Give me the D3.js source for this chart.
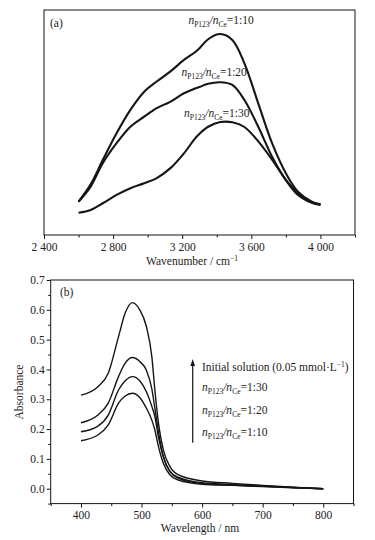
<!DOCTYPE html>
<html lang="en">
<head>
  <meta charset="UTF-8">
  <title>IR and UV-vis spectra</title>
  <style>
    body { margin: 0; background: #fff; }
    svg text { font-family: "Liberation Serif", "DejaVu Serif", serif; }
    .tick text { font-size: 11.5px; fill: #222; }
  </style>
</head>
<body>
<script src="https://cdn.jsdelivr.net/npm/d3@7"></script>
<script>
  // ---- panel (a): IR spectra ----
  var wavenumber = [2600, 2670, 2740, 2820, 2900, 2980, 3050, 3130, 3210, 3270, 3300, 3350, 3420, 3490, 3560, 3640, 3720, 3800, 3870, 3950, 4000];
  var ir_1_10 = [14.8, 22.5, 33.3, 45.2, 55.6, 63.7, 68.1, 72.6, 77.8, 81.0, 83.0, 87.0, 89.3, 86.7, 76.3, 58.5, 40.8, 27.4, 19.2, 14.8, 13.6];
  var ir_1_20 = [14.8, 21.5, 31.9, 40.8, 48.1, 52.6, 56.3, 59.2, 63.0, 65.0, 65.8, 67.2, 67.9, 66.7, 60.0, 48.1, 34.8, 24.4, 17.8, 14.4, 13.6];
  var ir_1_30 = [9.9, 11.1, 14.1, 17.8, 20.8, 23.0, 25.2, 29.6, 36.3, 42.5, 45.0, 48.1, 50.2, 50.1, 48.0, 41.6, 33.5, 24.5, 18.5, 14.3, 13.3];
  var irLabels = ["1:10", "1:20", "1:30"];
  var xTicksA = [2400, 2800, 3200, 3600, 4000];
  var xTickLabelsA = ["2 400", "2 800", "3 200", "3 600", "4 000"];

  // ---- panel (b): UV-vis spectra ----
  var wavelength = [400, 428, 445, 462, 473, 485, 497, 508, 517, 522, 528, 536, 547, 561, 600, 650, 700, 750, 800];
  var uv_initial = [0.314, 0.342, 0.387, 0.510, 0.589, 0.624, 0.600, 0.544, 0.443, 0.331, 0.219, 0.130, 0.074, 0.046, 0.026, 0.018, 0.011, 0.005, 0.000];
  var uv_1_30 = [0.221, 0.247, 0.287, 0.376, 0.421, 0.440, 0.427, 0.397, 0.335, 0.270, 0.190, 0.107, 0.058, 0.038, 0.020, 0.014, 0.009, 0.004, 0.000];
  var uv_1_20 = [0.191, 0.210, 0.247, 0.331, 0.362, 0.376, 0.362, 0.325, 0.276, 0.242, 0.172, 0.107, 0.057, 0.035, 0.017, 0.012, 0.008, 0.004, 0.000];
  var uv_1_10 = [0.161, 0.180, 0.214, 0.287, 0.311, 0.320, 0.306, 0.270, 0.230, 0.197, 0.141, 0.085, 0.046, 0.029, 0.015, 0.011, 0.007, 0.003, 0.000];
  var uvLegend = ["1:30", "1:20", "1:10"];
  var xTicksB = [400, 500, 600, 700, 800];
  var yTicksB = [0.0, 0.1, 0.2, 0.3, 0.4, 0.5, 0.6, 0.7];

  var ink = "#151515";
  var serif = "'Liberation Serif', 'DejaVu Serif', serif";

  var svg = d3.select("body").append("svg")
    .attr("width", 375)
    .attr("height", 540)
    .style("display", "block");

  // writes n_P123/n_Ce=ratio into a text element
  function ratioText(sel, ratio) {
    sel.append("tspan").attr("font-style", "italic").text("n");
    sel.append("tspan").attr("font-size", "7.5px").attr("dy", 3).text("P123");
    sel.append("tspan").attr("dy", -3).attr("font-style", "italic").text("/n");
    sel.append("tspan").attr("font-size", "7.5px").attr("dy", 3).text("Ce");
    sel.append("tspan").attr("dy", -3).text("=" + ratio);
  }

  // ================= panel (a) =================
  var xA = d3.scaleLinear().domain([2400, 4200]).range([44, 355]);
  var yA = d3.scaleLinear().domain([0, 100]).range([235, 10]);

  var gA = svg.append("g");

  gA.append("rect")
    .attr("x", xA.range()[0]).attr("y", yA.range()[1])
    .attr("width", xA.range()[1] - xA.range()[0])
    .attr("height", yA.range()[0] - yA.range()[1])
    .attr("fill", "none").attr("stroke", ink).attr("stroke-width", 1);

  var minorA = gA.append("g")
    .attr("transform", "translate(0," + yA.range()[0] + ")")
    .call(d3.axisBottom(xA).tickValues(d3.range(2600, 4201, 400)).tickSize(2.5).tickFormat(""));
  minorA.select(".domain").remove();

  var axA = gA.append("g")
    .attr("transform", "translate(0," + yA.range()[0] + ")")
    .attr("font-family", serif)
    .call(d3.axisBottom(xA).tickValues(xTicksA).tickSize(4)
      .tickFormat(function(d, i) { return xTickLabelsA[i]; }));
  axA.attr("font-family", serif).attr("font-size", 11.5);
  axA.select(".domain").remove();
  axA.selectAll(".tick text").attr("y", 8).attr("dy", "0.71em");
  gA.selectAll(".tick line").attr("stroke", ink);

  var lineA = d3.line()
    .x(function(d) { return xA(d[0]); })
    .y(function(d) { return yA(d[1]); })
    .curve(d3.curveCatmullRom.alpha(0.5));

  [ir_1_10, ir_1_20, ir_1_30].forEach(function(s) {
    gA.append("path")
      .datum(wavenumber.map(function(w, i) { return [w, s[i]]; }))
      .attr("fill", "none")
      .attr("stroke", ink)
      .attr("stroke-width", 2.1)
      .attr("d", lineA);
  });

  // labels above each peak
  var irLabelPos = [[3425, 94], [3385, 70.5], [3400, 52.5]];
  irLabels.forEach(function(r, i) {
    var t = gA.append("text")
      .attr("x", xA(irLabelPos[i][0]))
      .attr("y", yA(irLabelPos[i][1]))
      .attr("text-anchor", "middle")
      .attr("font-family", serif)
      .attr("font-size", "11.5px")
      .attr("fill", "#222");
    ratioText(t, r);
  });

  gA.append("text")
    .attr("x", 50).attr("y", 27)
    .attr("font-family", serif)
    .attr("font-size", "11.5px").attr("fill", "#222")
    .text("(a)");

  var titleA = gA.append("text")
    .attr("x", 192).attr("y", 265)
    .attr("text-anchor", "middle")
    .attr("font-family", serif)
    .attr("font-size", "11.5px").attr("fill", "#222");
  titleA.append("tspan").text("Wavenumber / cm");
  titleA.append("tspan").attr("font-size", "7.5px").attr("dy", -4).text("\u22121");

  // ================= panel (b) =================
  var xB = d3.scaleLinear().domain([350, 850]).range([50.7, 353.5]);
  var yB = d3.scaleLinear().domain([-0.05, 0.7]).range([503.6, 280]);

  var gB = svg.append("g");

  gB.append("rect")
    .attr("x", xB.range()[0]).attr("y", yB.range()[1])
    .attr("width", xB.range()[1] - xB.range()[0])
    .attr("height", yB.range()[0] - yB.range()[1])
    .attr("fill", "none").attr("stroke", ink).attr("stroke-width", 1);

  var minorBx = gB.append("g")
    .attr("transform", "translate(0," + yB.range()[0] + ")")
    .call(d3.axisBottom(xB).tickValues(d3.range(350, 851, 100)).tickSize(2.5).tickFormat(""));
  minorBx.select(".domain").remove();

  var axBx = gB.append("g")
    .attr("transform", "translate(0," + yB.range()[0] + ")")
    .call(d3.axisBottom(xB).tickValues(xTicksB).tickSize(4));
  axBx.attr("font-family", serif).attr("font-size", 11.5);
  axBx.select(".domain").remove();
  axBx.selectAll(".tick text").attr("y", 7).attr("dy", "0.71em");

  var minorBy = gB.append("g")
    .attr("transform", "translate(" + xB.range()[0] + ",0)")
    .call(d3.axisLeft(yB).tickValues(d3.range(-0.05, 0.7, 0.1)).tickSize(2.5).tickFormat(""));
  minorBy.select(".domain").remove();

  var axBy = gB.append("g")
    .attr("transform", "translate(" + xB.range()[0] + ",0)")
    .call(d3.axisLeft(yB).tickValues(yTicksB).tickSize(4).tickFormat(d3.format(".1f")));
  axBy.attr("font-family", serif).attr("font-size", 11.5);
  axBy.select(".domain").remove();
  axBy.selectAll(".tick text").attr("x", -6);
  gB.selectAll(".tick line").attr("stroke", ink);

  var lineB = d3.line()
    .x(function(d) { return xB(d[0]); })
    .y(function(d) { return yB(d[1]); })
    .curve(d3.curveMonotoneX);

  [uv_initial, uv_1_30, uv_1_20, uv_1_10].forEach(function(s) {
    gB.append("path")
      .datum(wavelength.map(function(w, i) { return [w, s[i]]; }))
      .attr("fill", "none")
      .attr("stroke", ink)
      .attr("stroke-width", 1.4)
      .attr("d", lineB);
  });

  gB.append("text")
    .attr("x", 60).attr("y", 296)
    .attr("font-family", serif)
    .attr("font-size", "11.5px").attr("fill", "#222")
    .text("(b)");

  // legend: arrow + labels
  var arrowX = 192.7;
  gB.append("line")
    .attr("x1", arrowX).attr("x2", arrowX)
    .attr("y1", 442.7).attr("y2", 364)
    .attr("stroke", ink).attr("stroke-width", 1.2);
  gB.append("path")
    .attr("d", "M" + arrowX + ",359 L" + (arrowX - 2.3) + ",366 L" + (arrowX + 2.3) + ",366 Z")
    .attr("fill", ink);

  var init = gB.append("text")
    .attr("x", 202).attr("y", 371)
    .attr("font-family", serif)
    .attr("font-size", "11.5px").attr("fill", "#222");
  init.append("tspan").text("Initial solution (0.05 mmol\u00b7L");
  init.append("tspan").attr("font-size", "7.5px").attr("dy", -4).text("\u22121");
  init.append("tspan").attr("dy", 4).text(")");

  var legendY = [391, 413.5, 436];
  uvLegend.forEach(function(r, i) {
    var t = gB.append("text")
      .attr("x", 202).attr("y", legendY[i])
      .attr("font-family", serif)
      .attr("font-size", "11.5px").attr("fill", "#222");
    ratioText(t, r);
  });

  gB.append("text")
    .attr("x", 200).attr("y", 532)
    .attr("text-anchor", "middle")
    .attr("font-family", serif)
    .attr("font-size", "11.5px").attr("fill", "#222")
    .text("Wavelength / nm");

  gB.append("text")
    .attr("transform", "translate(23,392) rotate(-90)")
    .attr("text-anchor", "middle")
    .attr("font-family", serif)
    .attr("font-size", "11.5px").attr("fill", "#222")
    .text("Absorbance");
</script>
</body>
</html>
